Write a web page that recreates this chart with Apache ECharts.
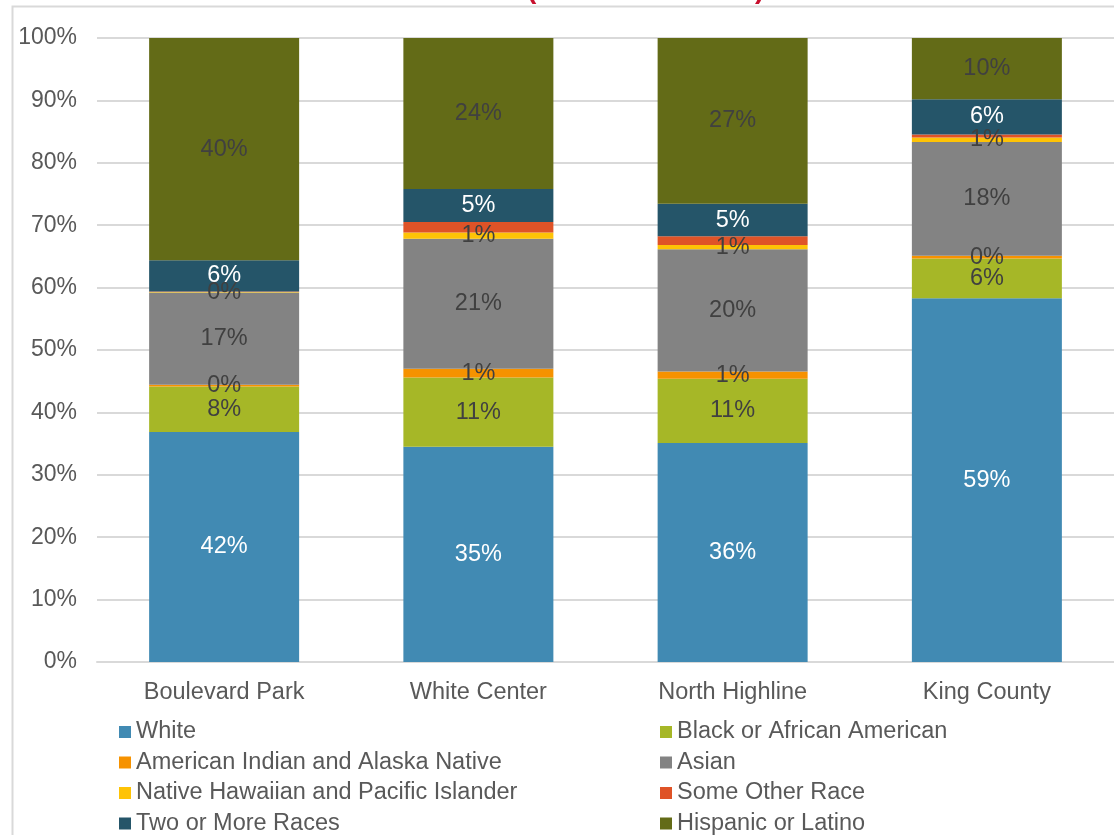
<!DOCTYPE html>
<html>
<head>
<meta charset="utf-8">
<script src="https://cdn.jsdelivr.net/npm/echarts@6/dist/echarts.min.js"></script>
<style>
html,body{margin:0;padding:0;background:#fff;}
#chart{width:1114px;height:835px;}
</style>
</head>
<body>
<div id="chart"></div>
<script>
// Categories
var categories = ['Boulevard Park', 'White Center', 'North Highline', 'King County'];
// Raw shares (percent of population); Hispanic overlaps races, so totals exceed 100
var white      = [41.7, 34.8, 36.2, 59.0];
var black      = [8.25, 11.2, 10.6, 6.45];
var aian       = [0.34, 1.4, 1.2, 0.45];
var asian      = [16.7, 21.0, 20.2, 18.45];
var nhpi       = [0.1, 1.0, 0.7, 0.7];
var otherRace  = [0.1, 1.7, 1.45, 0.5];
var twoOrMore  = [5.65, 5.35, 5.35, 5.7];
var hispanic   = [40.3, 24.4, 27.4, 9.95];
var yTicks = [0, 10, 20, 30, 40, 50, 60, 70, 80, 90, 100];

var seriesDefs = [
  {name: 'White', data: white, color: '#418AB3', labelColor: '#ffffff', showLabel: true},
  {name: 'Black or African American', data: black, color: '#A6B727', labelColor: '#404040', showLabel: true},
  {name: 'American Indian and Alaska Native', data: aian, color: '#F69200', labelColor: '#404040', showLabel: true},
  {name: 'Asian', data: asian, color: '#838383', labelColor: '#404040', showLabel: true},
  {name: 'Native Hawaiian and Pacific Islander', data: nhpi, color: '#FEC306', labelColor: '#404040', showLabel: true},
  {name: 'Some Other Race', data: otherRace, color: '#DF5327', labelColor: '#404040', showLabel: false},
  {name: 'Two or More Races', data: twoOrMore, color: '#255569', labelColor: '#ffffff', showLabel: true},
  {name: 'Hispanic or Latino', data: hispanic, color: '#636B17', labelColor: '#404040', showLabel: true}
];

var totals = categories.map(function(c, i){
  return seriesDefs.reduce(function(s, d){ return s + d.data[i]; }, 0);
});

var font = 'Liberation Sans, Arial, sans-serif';

var series = seriesDefs.map(function(d){
  return {
    name: d.name,
    type: 'bar',
    stack: 'total',
    barWidth: 150,
    itemStyle: {color: d.color},
    label: {
      show: d.showLabel,
      position: 'inside',
      offset: [0, 3],
      color: d.labelColor,
      fontFamily: font,
      fontSize: 23.5,
      formatter: function(p){ return Math.round(d.data[p.dataIndex]) + '%'; }
    },
    labelLayout: {hideOverlap: false},
    data: d.data.map(function(v, i){ return v / totals[i] * 100; })
  };
});

var chart = echarts.init(document.getElementById('chart'));
var legendText = {fontSize: 23.5, color: '#595959', fontFamily: font};
chart.setOption({
  animation: false,
  textStyle: {fontFamily: font},
  graphic: [
    {type: 'rect', left: 10, top: 4, shape: {x: 0, y: 0, width: 1200, height: 1000},
     style: {fill: 'none', stroke: '#d9d9d9', lineWidth: 2}, z: -1},
    {type: 'text', x: 527, y: 4, style: {text: '(', fill: '#C8102E', font: 'bold 28px Liberation Sans', verticalAlign: 'bottom'}},
    {type: 'text', x: 755, y: 4, style: {text: ')', fill: '#C8102E', font: 'bold 28px Liberation Sans', verticalAlign: 'bottom'}}
  ],
  grid: {left: 97, right: -6, top: 38, bottom: 173, containLabel: false},
  legend: [
    {data: ['White', 'American Indian and Alaska Native', 'Native Hawaiian and Pacific Islander', 'Two or More Races'],
     orient: 'vertical', left: 119, top: 720, height: 140, padding: 0, itemWidth: 12, itemHeight: 12, itemGap: 6.5, icon: 'rect',
     textStyle: legendText},
    {data: ['Black or African American', 'Asian', 'Some Other Race', 'Hispanic or Latino'],
     orient: 'vertical', left: 660, top: 720, height: 140, padding: 0, itemWidth: 12, itemHeight: 12, itemGap: 6.5, icon: 'rect',
     textStyle: legendText}
  ],
  xAxis: {
    type: 'category',
    data: categories,
    axisLine: {lineStyle: {color: '#d9d9d9', width: 2}},
    axisTick: {show: false},
    axisLabel: {color: '#595959', fontSize: 23.5, margin: 19, fontFamily: font}
  },
  yAxis: {
    type: 'value',
    min: yTicks[0],
    max: yTicks[yTicks.length - 1],
    interval: 10,
    axisLine: {show: false},
    axisTick: {show: false},
    splitLine: {lineStyle: {color: '#d9d9d9', width: 2}},
    axisLabel: {color: '#595959', fontSize: 23, margin: 20, fontFamily: font, formatter: '{value}%', padding: [5, 0, 0, 0]}
  },
  series: series
});
</script>
</body>
</html>
